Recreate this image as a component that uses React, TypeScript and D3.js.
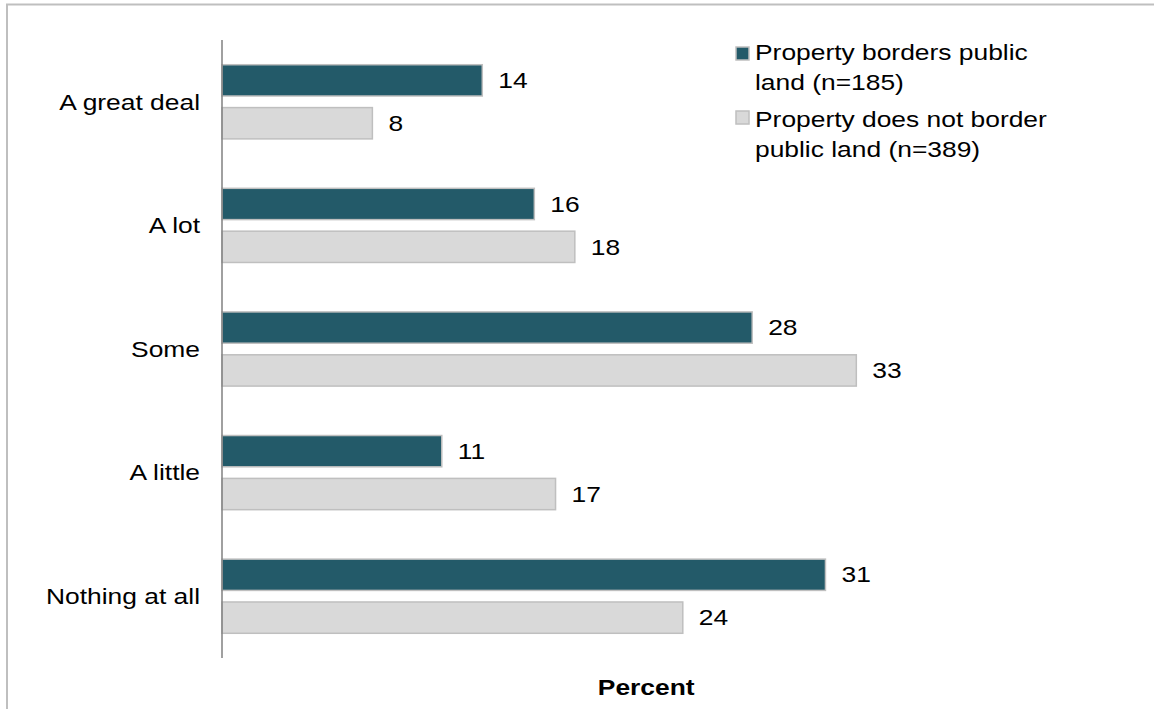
import React from "react";
import * as d3 from "d3";

const categories = ["A great deal", "A lot", "Some", "A little", "Nothing at all"];
const bordersValues = [13.5, 16.2, 27.5, 11.4, 31.3];
const notBordersValues = [7.8, 18.3, 32.9, 17.3, 23.9];
const seriesNames = ["Property borders public land (n=185)", "Property does not border public land (n=389)"];
const legendLines = [
  ["Property borders public", "land (n=185)"],
  ["Property does not border", "public land (n=389)"],
];
const xAxisTitle = "Percent";

const W = 1154;
const H = 709;
const TEAL = "#235A69";
const GRAY = "#D9D9D9";
const STROKE = "#BFBFBF";
const FONT = "'Liberation Sans', Arial, sans-serif";
const FS = 22;
const SX = 1.2;

function T(props: { x: number; y: number; anchor?: string; bold?: boolean; children: React.ReactNode }) {
  return (
    <text
      transform={`translate(${props.x},${props.y}) scale(${SX},1)`}
      dy="0.35em"
      textAnchor={props.anchor || "start"}
      fontSize={FS}
      fontWeight={props.bold ? "bold" : "normal"}
      fill="#000"
    >
      {props.children}
    </text>
  );
}

export default function App() {
  const x = d3.scaleLinear().domain([0, 44]).range([222, 222 + 19.28 * 44]);
  const y = d3.scaleBand<string>().domain(categories).range([40, 658]).paddingInner(0.4).paddingOuter(0.2);
  const inner = d3.scaleBand<number>().domain([0, 1]).range([0, y.bandwidth()]).paddingInner(0.27).paddingOuter(0);
  const series = [
    { name: seriesNames[0], values: bordersValues, color: TEAL },
    { name: seriesNames[1], values: notBordersValues, color: GRAY },
  ];
  const x0 = x(0);
  return (
    <svg width={W} height={H} style={{ position: "fixed", left: 0, top: 0, background: "#fff" }} fontFamily={FONT}>
      <rect x={7} y={4.5} width={W + 10} height={H + 10} fill="#fff" stroke={STROKE} strokeWidth={2} />
      {categories.map((c, i) => (
        <g key={c}>
          {series.map((s, j) => {
            const v = s.values[i];
            const by = (y(c) as number) + (inner(j) as number);
            const bh = inner.bandwidth();
            return (
              <g key={s.name}>
                <rect x={x0} y={by} width={x(v) - x0} height={bh} fill={s.color} stroke={STROKE} strokeWidth={1.5} />
                <T x={x(v) + 16} y={by + bh / 2}>{Math.round(v)}</T>
              </g>
            );
          })}
          <T x={200} y={(y(c) as number) + y.bandwidth() / 2} anchor="end">{c}</T>
        </g>
      ))}
      <line x1={x0} x2={x0} y1={40} y2={658} stroke="#808080" strokeWidth={1.5} />
      {series.map((s, j) => {
        const top = j === 0 ? 47 : 111;
        const textY = j === 0 ? 52 : 119;
        return (
          <g key={s.name}>
            <rect x={736} y={top} width={13} height={13} fill={s.color} stroke={STROKE} strokeWidth={1.5} />
            {legendLines[j].map((ln, k) => (
              <T key={k} x={755} y={textY + k * 30}>{ln}</T>
            ))}
          </g>
        );
      })}
      <T x={(x.range()[0] + x.range()[1]) / 2} y={687} anchor="middle" bold>{xAxisTitle}</T>
    </svg>
  );
}
